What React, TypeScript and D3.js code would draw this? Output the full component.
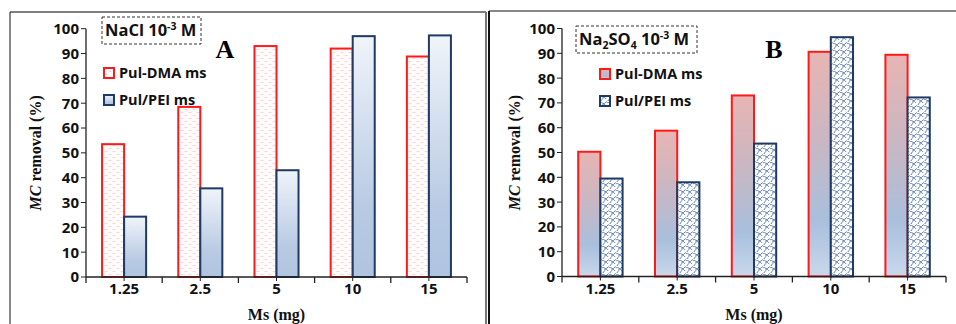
import React from "react";
import * as d3 from "d3";

const categories = ["1.25", "2.5", "5", "10", "15"];
const naclDMA = [53.5, 68.5, 93, 92, 88.8];
const naclPEI = [24.3, 35.7, 43, 97, 97.3];
const sulfDMA = [50.3, 58.8, 73, 90.6, 89.4];
const sulfPEI = [39.5, 38, 53.6, 96.5, 72.2];
const yTicks = [0, 10, 20, 30, 40, 50, 60, 70, 80, 90, 100];
const seriesNames = ["Pul-DMA ms", "Pul/PEI ms"];

const SANS = "'Open Sans', 'Noto Sans', sans-serif";
const SERIF = "'Liberation Serif', 'DejaVu Serif', serif";
const RED = "#ff1a1a";
const NAVY = "#1f3a64";

type PanelProps = {
  left: number;
  right: number;
  top: number;
  bottom: number;
  dma: number[];
  pei: number[];
  dmaFill: string;
  peiFill: string;
  letter: string;
  letterX: number;
  titleX: number;
  titleLabel: React.ReactNode;
  boxX: number;
  boxY: number;
  boxW: number;
  boxH: number;
  legendX: number;
  legendY: number;
  yTitleX: number;
};

function Panel(p: PanelProps) {
  const x0 = d3.scaleBand<string>().domain(categories).range([p.left, p.right]).padding(0);
  const x1 = d3
    .scaleBand<string>()
    .domain(seriesNames)
    .range([0, x0.bandwidth()])
    .paddingInner(0)
    .paddingOuter(0.73);
  const y = d3.scaleLinear().domain([0, 100]).range([p.bottom, p.top]);
  const boundaries = categories.map((c) => x0(c) as number).concat([p.right]);
  const centers = categories.map((c) => (x0(c) as number) + x0.bandwidth() / 2);
  const bw = x1.bandwidth();
  return (
    <g>
      {categories.map((c, i) => {
        const bx = x0(c) as number;
        return (
          <g key={c}>
            <rect
              x={bx + (x1(seriesNames[0]) as number)}
              y={y(p.dma[i])}
              width={bw}
              height={p.bottom - y(p.dma[i])}
              fill={p.dmaFill}
              stroke={RED}
              strokeWidth={2}
            />
            <rect
              x={bx + (x1(seriesNames[1]) as number)}
              y={y(p.pei[i])}
              width={bw}
              height={p.bottom - y(p.pei[i])}
              fill={p.peiFill}
              stroke={NAVY}
              strokeWidth={2}
            />
          </g>
        );
      })}
      <line x1={p.left} x2={p.left} y1={p.top} y2={p.bottom} stroke="#222" strokeWidth={1.3} />
      <line x1={p.left} x2={p.right} y1={p.bottom} y2={p.bottom} stroke="#222" strokeWidth={1.5} />
      {yTicks.map((t) => (
        <g key={t}>
          <line x1={p.left - 5} x2={p.left} y1={y(t)} y2={y(t)} stroke="#222" strokeWidth={1} />
          <text
            x={p.left - 7}
            y={y(t)}
            dy="0.36em"
            textAnchor="end"
            fontFamily={SANS}
            fontWeight={700}
            fontSize={15}
            fill="#111"
          >
            {t}
          </text>
        </g>
      ))}
      {boundaries.map((b, i) => (
        <line key={"b" + i} x1={b} x2={b} y1={p.bottom} y2={p.bottom + 6} stroke="#222" strokeWidth={1.3} />
      ))}
      {centers.map((cx, i) => (
        <g key={"c" + i}>
          <line x1={cx} x2={cx} y1={p.bottom} y2={p.bottom + 4} stroke="#222" strokeWidth={1} />
          <text x={cx} y={294} textAnchor="middle" fontFamily={SANS} fontWeight={700} fontSize={15} fill="#111">
            {categories[i]}
          </text>
        </g>
      ))}
      <text
        x={(p.left + p.right) / 2}
        y={320}
        textAnchor="middle"
        fontFamily={SERIF}
        fontWeight={700}
        fontSize={16}
        fill="#111"
      >
        Ms (mg)
      </text>
      <text
        transform={`translate(${p.yTitleX},${(p.top + p.bottom) / 2}) rotate(-90)`}
        textAnchor="middle"
        dy="0.35em"
        fontFamily={SERIF}
        fontWeight={700}
        fontSize={16}
        fill="#111"
      >
        <tspan fontStyle="italic">MC</tspan>
        <tspan> removal (%)</tspan>
      </text>
      <rect
        x={p.boxX}
        y={p.boxY}
        width={p.boxW}
        height={p.boxH}
        fill="white"
        stroke="#333"
        strokeWidth={1}
        strokeDasharray="3,2"
      />
      <text
        x={p.titleX}
        y={p.boxY + p.boxH / 2}
        dy="0.36em"
        fontFamily={SANS}
        fontWeight={700}
        fontSize={16.5}
        fill="#111"
      >
        {p.titleLabel}
      </text>
      <text x={p.letterX} y={58} textAnchor="middle" fontFamily={SERIF} fontWeight={700} fontSize={26} fill="#000">
        {p.letter}
      </text>
      {seriesNames.map((s, i) => (
        <g key={s} transform={`translate(${p.legendX},${p.legendY + i * 27})`}>
          <rect
            x={0}
            y={-5}
            width={10}
            height={10}
            fill={i === 0 ? p.dmaFill : p.peiFill}
            stroke={i === 0 ? RED : NAVY}
            strokeWidth={2}
          />
          <text x={15} y={0} dy="0.36em" fontFamily={SANS} fontWeight={700} fontSize={14.5} fill="#111">
            {s}
          </text>
        </g>
      ))}
    </g>
  );
}

export default function App() {
  return (
    <svg
      width={956}
      height={324}
      style={{ position: "absolute", left: 0, top: 0, background: "white" }}
    >
      <defs>
        <pattern id="pinkDots" patternUnits="userSpaceOnUse" width={8} height={6}>
          <rect width={8} height={6} fill="#fffbfb" />
          <line x1={0.5} x2={3.5} y1={1.5} y2={1.5} stroke="#f8d6d6" strokeWidth={1} />
          <line x1={4.5} x2={7.5} y1={4.5} y2={4.5} stroke="#f8d6d6" strokeWidth={1} />
        </pattern>
        <linearGradient id="blueGrad" x1="0" y1="0" x2="0" y2="1">
          <stop offset="0%" stopColor="#f0f4fa" />
          <stop offset="70%" stopColor="#b9cbe3" />
          <stop offset="100%" stopColor="#b0c4df" />
        </linearGradient>
        <linearGradient id="pinkBlueGrad" x1="0" y1="0" x2="0" y2="1">
          <stop offset="0%" stopColor="#e8b5b3" />
          <stop offset="35%" stopColor="#cdb6c0" />
          <stop offset="75%" stopColor="#a9bfdc" />
          <stop offset="100%" stopColor="#c9d8ec" />
        </linearGradient>
        <pattern id="waves" patternUnits="userSpaceOnUse" width={7} height={7}>
          <rect width={7} height={7} fill="#ffffff" />
          <path d="M0,2 C2,0 3,4 5,2 S7,1 7,1" fill="none" stroke="#4a6ea5" strokeWidth={0.9} />
          <path d="M1,7 C1,5 4,5 3,3.5 S5,3 6,5" fill="none" stroke="#4a6ea5" strokeWidth={0.9} />
        </pattern>
      </defs>

      <line x1={10} x2={486} y1={12} y2={12} stroke="#555" strokeWidth={1.5} />
      <line x1={10} x2={10} y1={12} y2={324} stroke="#111" strokeWidth={1} />
      <line x1={486} x2={486} y1={12} y2={324} stroke="#777" strokeWidth={2} />
      <line x1={489} x2={956} y1={11} y2={11} stroke="#111" strokeWidth={1.2} />
      <line x1={489} x2={489} y1={11} y2={324} stroke="#111" strokeWidth={2} />

      <Panel
        left={86}
        right={467}
        top={28.7}
        bottom={277}
        dma={naclDMA}
        pei={naclPEI}
        dmaFill="url(#pinkDots)"
        peiFill="url(#blueGrad)"
        letter="A"
        letterX={225}
        boxX={102}
        boxY={17}
        boxW={99}
        boxH={27}
        titleX={105}
        titleLabel={
          <>
            <tspan>NaCl 10</tspan>
            <tspan dy={-6} fontSize={10.5}>-3</tspan>
            <tspan dy={6}> M</tspan>
          </>
        }
        legendX={104}
        legendY={73}
        yTitleX={35}
      />
      <Panel
        left={562}
        right={946}
        top={28.5}
        bottom={276.5}
        dma={sulfDMA}
        pei={sulfPEI}
        dmaFill="url(#pinkBlueGrad)"
        peiFill="url(#waves)"
        letter="B"
        letterX={774}
        boxX={576}
        boxY={26}
        boxW={121}
        boxH={27}
        titleX={579}
        titleLabel={
          <>
            <tspan>Na</tspan>
            <tspan dy={4} fontSize={10.5}>2</tspan>
            <tspan dy={-4}>SO</tspan>
            <tspan dy={4} fontSize={10.5}>4</tspan>
            <tspan dy={-4}> 10</tspan>
            <tspan dy={-6} fontSize={10.5}>-3</tspan>
            <tspan dy={6}> M</tspan>
          </>
        }
        legendX={600}
        legendY={74}
        yTitleX={514}
      />
    </svg>
  );
}
